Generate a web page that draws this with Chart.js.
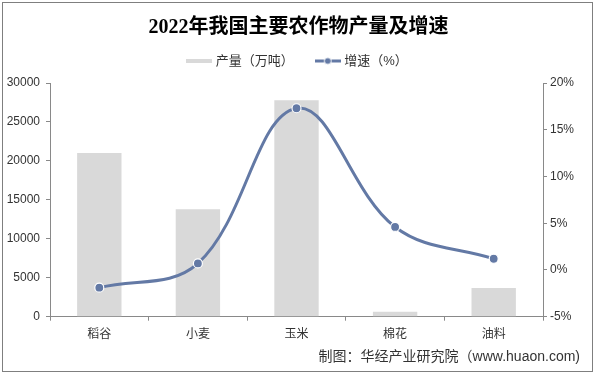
<!DOCTYPE html>
<html>
<head>
<meta charset="utf-8">
<script src="https://cdn.jsdelivr.net/npm/chart.js@4.4.1/dist/chart.umd.min.js"></script>
<style>
  html, body { margin: 0; padding: 0; background: #fff; }
  #wrap { position: relative; width: 597px; height: 376px; }
  #frame { position: absolute; left: 2px; top: 2px; width: 589px; height: 368px; border: 1px solid #7f7f7f; pointer-events: none; }
  canvas { position: absolute; left: 0; top: 0; }
</style>
</head>
<body>
<div id="wrap">
  <canvas id="c" width="597" height="376"></canvas>
  <div id="frame"></div>
</div>
<script>
const categories = ['稻谷', '小麦', '玉米', '棉花', '油料'];
const outputValues = [21000, 13800, 27800, 620, 3700];   // 产量（万吨）
const growthValues = [-1.9, 0.7, 17.3, 4.6, 1.2];        // 增速（%）
const leftTicks = [0, 5000, 10000, 15000, 20000, 25000, 30000];
const rightTicks = [-5, 0, 5, 10, 15, 20];

const BAR_COLOR = '#d9d9d9';
const LINE_COLOR = '#6379a5';
const AXIS_COLOR = '#898989';
const TEXT_COLOR = '#333333';
const LATIN = '"Liberation Sans", "Noto Sans CJK SC", sans-serif';
const SPACER = 5.5;
const CENTER_SHIFT = 8.5;

function makeBarSwatch() {
  const c = document.createElement('canvas');
  c.width = 26; c.height = 4;
  const g = c.getContext('2d');
  g.fillStyle = BAR_COLOR;
  g.fillRect(0, 0, 26, 4);
  return c;
}
function makeLineSwatch() {
  const c = document.createElement('canvas');
  c.width = 26; c.height = 9;
  const g = c.getContext('2d');
  g.strokeStyle = LINE_COLOR;
  g.lineWidth = 3;
  g.beginPath(); g.moveTo(0, 4.5); g.lineTo(26, 4.5); g.stroke();
  g.fillStyle = LINE_COLOR;
  g.strokeStyle = '#ffffff';
  g.lineWidth = 1;
  g.beginPath(); g.arc(13, 4.5, 3.5, 0, Math.PI * 2); g.fill(); g.stroke();
  return c;
}
const swatches = [makeBarSwatch(), makeLineSwatch()];

// empty layout box between legend and chart area; recentre title & legend on the canvas
const layoutPlugin = {
  id: 'layoutTweaks',
  beforeInit(chart) {
    const box = {
      position: 'top', weight: 500, fullSize: true, options: {},
      width: 0, height: 0, left: 0, top: 0, right: 0, bottom: 0,
      isHorizontal() { return true; },
      update(maxWidth) { this.width = maxWidth; this.height = SPACER; },
      draw() {}
    };
    Chart.layouts.addBox(chart, box);
  },
  afterLayout(chart) {
    [chart.titleBlock, chart.legend].forEach(b => {
      if (b) { b.left += CENTER_SHIFT; b.right += CENTER_SHIFT; }
    });
  }
};

new Chart(document.getElementById('c'), {
  type: 'bar',
  plugins: [layoutPlugin],
  data: {
    labels: categories,
    datasets: [
      {
        type: 'bar',
        label: '产量（万吨）',
        data: outputValues,
        backgroundColor: BAR_COLOR,
        borderWidth: 0,
        barPercentage: 0.45,
        categoryPercentage: 1,
        yAxisID: 'y',
        order: 2
      },
      {
        type: 'line',
        label: '增速（%）',
        data: growthValues,
        borderColor: LINE_COLOR,
        backgroundColor: LINE_COLOR,
        borderWidth: 3,
        tension: 0.38,
        pointRadius: 4.5,
        pointBorderColor: '#ffffff',
        pointBorderWidth: 1.2,
        pointBackgroundColor: LINE_COLOR,
        fill: false,
        yAxisID: 'y1',
        order: 1
      }
    ]
  },
  options: {
    responsive: false,
    animation: false,
    events: [],
    layout: { padding: { left: 0, right: 17, top: 0, bottom: 0 } },
    plugins: {
      title: {
        display: true,
        text: '2022年我国主要农作物产量及增速',
        color: '#000000',
        font: { family: '"Liberation Serif", "Noto Sans CJK SC", serif', size: 20, weight: 'bold', lineHeight: 1.2 },
        padding: { top: 16, bottom: -9.5 }
      },
      subtitle: {
        display: true,
        position: 'bottom',
        align: 'end',
        text: '制图：华经产业研究院（www.huaon.com)',
        color: TEXT_COLOR,
        font: { family: LATIN, size: 14, lineHeight: 1.2 },
        padding: { top: 4, bottom: 10 }
      },
      legend: {
        display: true,
        position: 'top',
        labels: {
          usePointStyle: true,
          pointStyleWidth: 20,
          padding: 24,
          color: TEXT_COLOR,
          font: { family: LATIN, size: 13 },
          generateLabels: (chart) => chart.data.datasets.map((ds, i) => ({
            text: ds.label,
            pointStyle: swatches[i],
            datasetIndex: i,
            hidden: !chart.isDatasetVisible(i),
            fontColor: TEXT_COLOR,
            fillStyle: 'transparent',
            strokeStyle: 'transparent',
            lineWidth: 0
          }))
        }
      },
      tooltip: { enabled: false }
    },
    scales: {
      x: {
        type: 'category',
        offset: true,
        grid: { offset: true, drawOnChartArea: false, drawTicks: true, tickLength: 4, color: AXIS_COLOR },
        border: { color: AXIS_COLOR, width: 1 },
        ticks: { color: TEXT_COLOR, font: { family: LATIN, size: 12 }, padding: 7 },
        afterFit: (s) => { s.height = 28.5; }
      },
      y: {
        position: 'left',
        min: 0,
        max: 30000,
        afterBuildTicks: (s) => { s.ticks = leftTicks.map(v => ({ value: v })); },
        grid: { drawOnChartArea: false, drawTicks: true, tickLength: 4, color: AXIS_COLOR },
        border: { color: AXIS_COLOR, width: 1 },
        ticks: { color: TEXT_COLOR, font: { family: LATIN, size: 12 }, padding: 6, callback: (v) => String(v) },
        afterFit: (s) => { s.width = 50; }
      },
      y1: {
        position: 'right',
        min: -5,
        max: 20,
        afterBuildTicks: (s) => { s.ticks = rightTicks.map(v => ({ value: v })); },
        grid: { drawOnChartArea: false, drawTicks: true, tickLength: 4, color: AXIS_COLOR },
        border: { color: AXIS_COLOR, width: 1 },
        ticks: { color: TEXT_COLOR, font: { family: LATIN, size: 12 }, padding: 3, callback: (v) => v + '%' },
        afterFit: (s) => { s.width = 37; }
      }
    }
  }
});
</script>
</body>
</html>
